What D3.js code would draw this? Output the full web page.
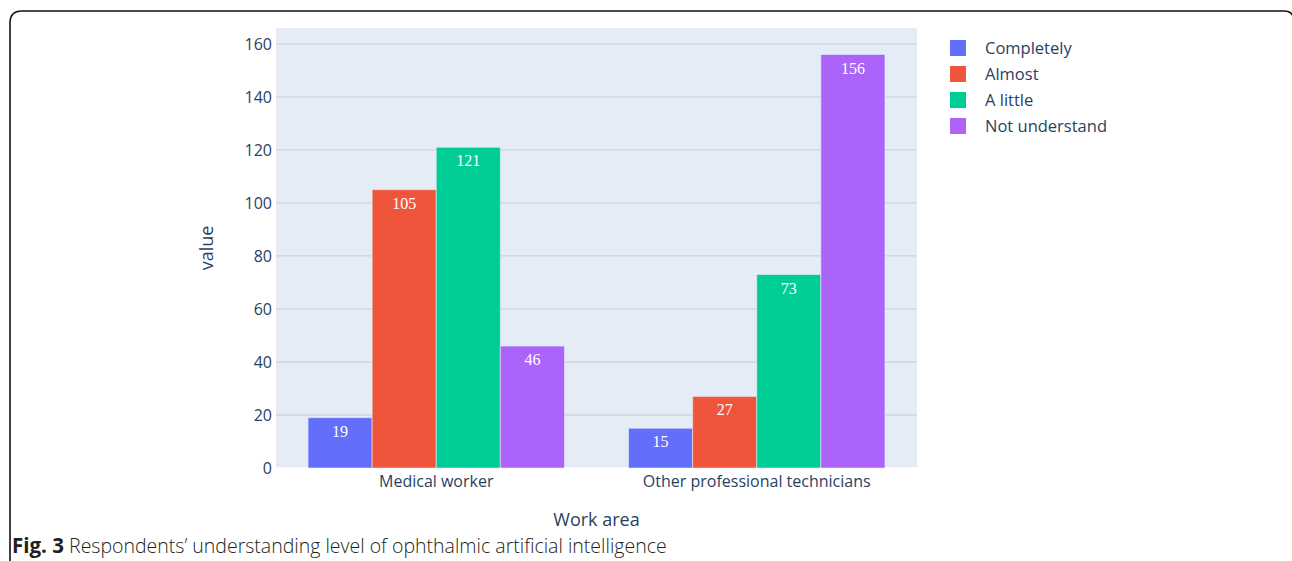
<!DOCTYPE html>
<meta charset="utf-8">
<style>
  body { margin: 0; background: #fff; }
  svg text { font-family: "Open Sans", sans-serif; }
</style>
<body>
<svg width="1292" height="561"></svg>
<script src="https://cdn.jsdelivr.net/npm/d3@7"></script>
<script>
// data
var categories = ["Medical worker", "Other professional technicians"];
var seriesNames = ["Completely", "Almost", "A little", "Not understand"];
var seriesColors = ["#636efa", "#EF553B", "#00cc96", "#ab63fa"];
var completely = [19, 15];
var almost = [105, 27];
var aLittle = [121, 73];
var notUnderstand = [46, 156];
var yTicks = [0, 20, 40, 60, 80, 100, 120, 140, 160];

var seriesValues = [completely, almost, aLittle, notUnderstand];

var svg = d3.select("svg");
var plot = { left: 276, right: 917, top: 28, bottom: 468 };

// frame around the figure (right edge runs just off the picture)
svg.append("path")
    .attr("d", "M10,561 L10,23 Q10,11 22,11 L1284,11 Q1293,11 1294,20 L1294,561")
    .attr("fill", "none")
    .attr("stroke", "#111")
    .attr("stroke-width", 1.6);

var x0 = d3.scaleBand().domain(categories).range([plot.left, plot.right]).paddingInner(0.2).paddingOuter(0.1);
var x0full = d3.scaleBand().domain(categories).range([plot.left, plot.right]);
var x1 = d3.scaleBand().domain(seriesNames).range([0, x0.bandwidth()]);
var y = d3.scaleLinear().domain([0, 166]).range([plot.bottom, plot.top]);

svg.append("rect")
    .attr("x", plot.left).attr("y", plot.top)
    .attr("width", plot.right - plot.left).attr("height", plot.bottom - plot.top)
    .attr("fill", "#E5ECF6");

// gridlines + y labels
var yAxis = svg.append("g");
yAxis.selectAll("line").data(yTicks).enter().append("line")
    .attr("x1", plot.left).attr("x2", plot.right)
    .attr("y1", function(d) { return y(d); }).attr("y2", function(d) { return y(d); })
    .attr("stroke", function(d) { return d === 0 ? "#fff" : "#cfd3da"; })
    .attr("stroke-width", 1.3);
yAxis.selectAll("text").data(yTicks).enter().append("text")
    .attr("x", plot.left - 4).attr("y", function(d) { return y(d); })
    .attr("dy", "0.36em")
    .attr("text-anchor", "end")
    .attr("fill", "#2a3f5f")
    .style("font-size", "16px")
    .text(function(d) { return d; });

// bars
var groups = svg.append("g").selectAll("g").data(seriesNames).enter().append("g");
groups.each(function(name, si) {
  var g = d3.select(this);
  var rows = categories.map(function(c, ci) { return { cat: c, v: seriesValues[si][ci] }; });
  g.selectAll("rect").data(rows).enter().append("rect")
      .attr("x", function(d) { return x0(d.cat) + x1(name); })
      .attr("y", function(d) { return y(d.v); })
      .attr("width", x1.bandwidth())
      .attr("height", function(d) { return y(0) - y(d.v); })
      .attr("fill", seriesColors[si])
      .attr("stroke", "#E5ECF6")
      .attr("stroke-opacity", 0.6)
      .attr("stroke-width", 1);
  g.selectAll("text").data(rows).enter().append("text")
      .attr("x", function(d) { return x0(d.cat) + x1(name) + x1.bandwidth() / 2; })
      .attr("y", function(d) { return y(d.v) + 19; })
      .attr("text-anchor", "middle")
      .attr("fill", "#fff")
      .style("font-family", "'Liberation Serif', 'Times New Roman', serif")
      .style("font-size", "16px")
      .text(function(d) { return d.v; });
});

// x labels
svg.append("g").selectAll("text").data(categories).enter().append("text")
    .attr("x", function(d) { return x0full(d) + x0full.bandwidth() / 2; })
    .attr("y", 487)
    .attr("text-anchor", "middle")
    .attr("fill", "#2a3f5f")
    .style("font-size", "16px")
    .text(function(d) { return d; });

svg.append("text")
    .attr("x", (plot.left + plot.right) / 2).attr("y", 526)
    .attr("text-anchor", "middle")
    .attr("fill", "#2a3f5f")
    .style("font-size", "18px")
    .text("Work area");

svg.append("text")
    .attr("transform", "translate(213," + ((plot.top + plot.bottom) / 2) + ") rotate(-90)")
    .attr("text-anchor", "middle")
    .attr("fill", "#2a3f5f")
    .style("font-size", "18px")
    .text("value");

// legend
var legend = svg.append("g").selectAll("g").data(seriesNames).enter().append("g")
    .attr("transform", function(d, i) { return "translate(950," + (48 + i * 26) + ")"; });
legend.append("rect")
    .attr("x", 0).attr("y", -8).attr("width", 16).attr("height", 16)
    .attr("fill", function(d, i) { return seriesColors[i]; });
legend.append("text")
    .attr("x", 35).attr("y", 0).attr("dy", "0.36em")
    .attr("fill", "#2a3f5f")
    .style("font-size", "16.5px")
    .text(function(d) { return d; });

// caption
var cap = svg.append("text").attr("x", 12).attr("y", 553)
    .attr("fill", "#231f20")
    .style("font-size", "19.5px")
    .style("font-weight", 300);
cap.append("tspan").style("font-weight", "bold").style("font-size", "20.5px").text("Fig. 3");
cap.append("tspan").text(" Respondents’ understanding level of ophthalmic artificial intelligence");
</script>
</body>
